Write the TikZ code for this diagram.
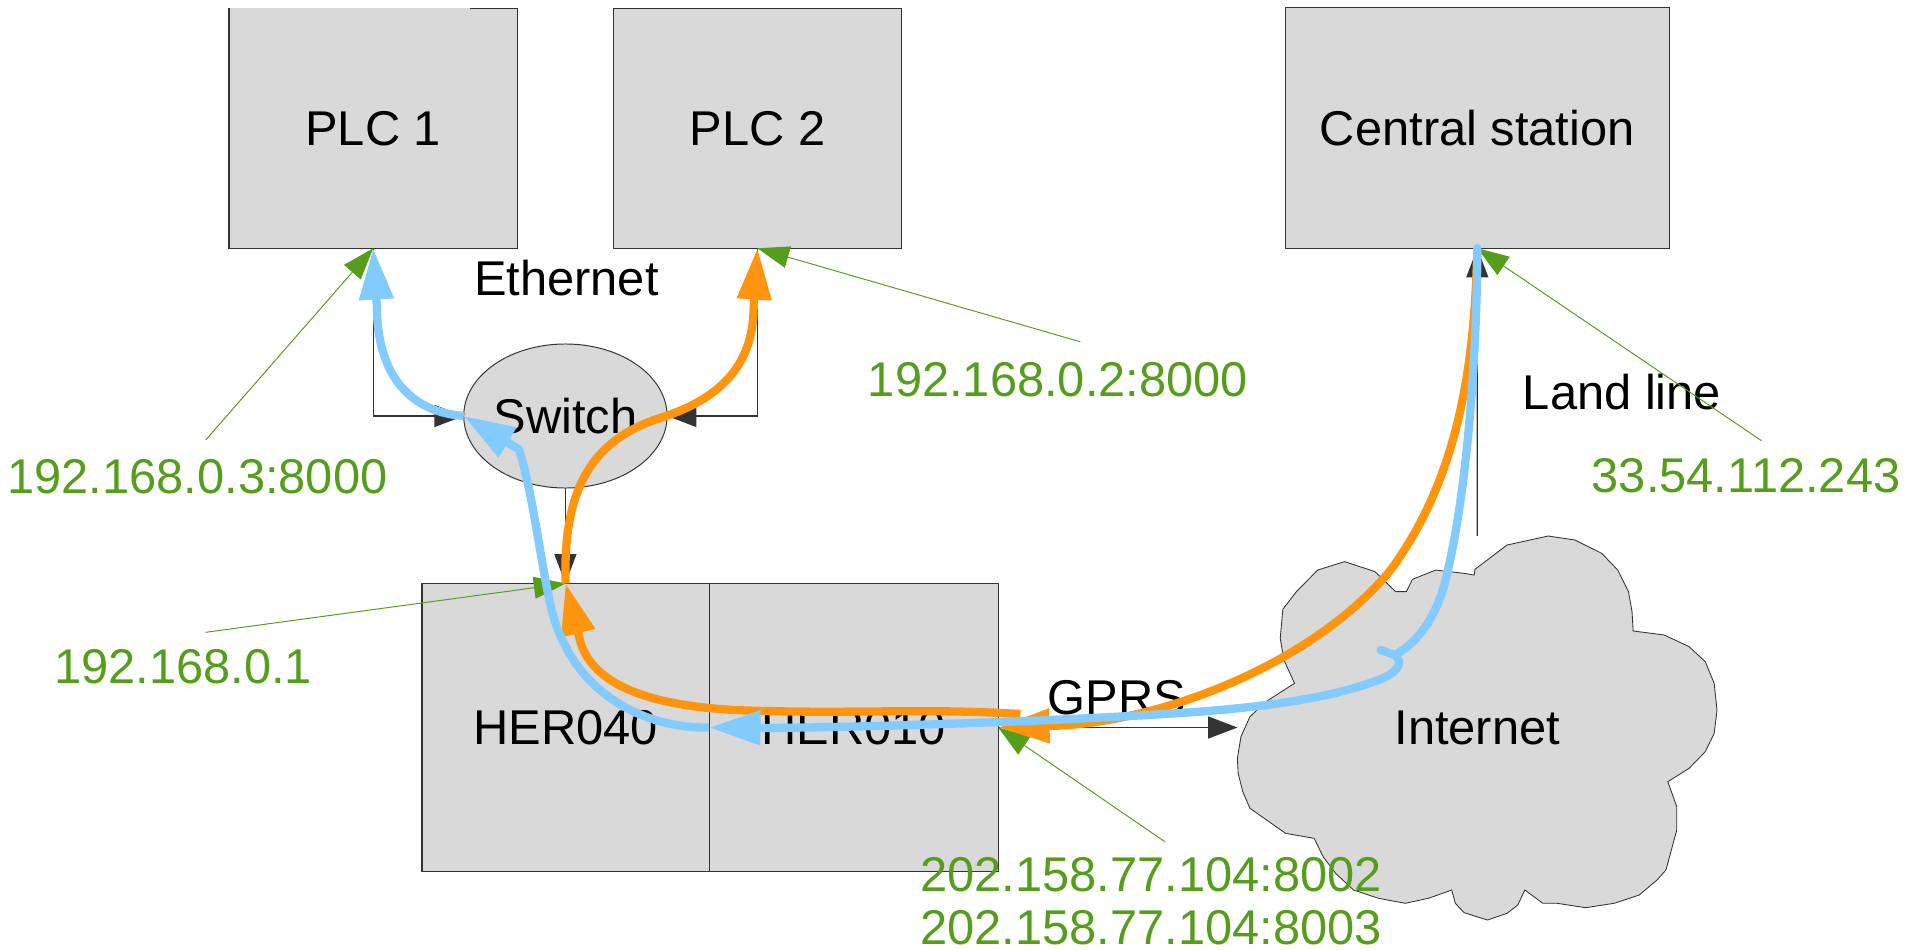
\documentclass[tikz,border=0pt]{standalone}
\usepackage{fontspec}
\setmainfont{Liberation Sans}
\usetikzlibrary{arrows.meta,shapes.geometric,calc}
\definecolor{boxgray}{HTML}{D9D9D9}
\definecolor{edgegray}{HTML}{333333}
\definecolor{flowblue}{HTML}{83CAFF}
\definecolor{floworange}{HTML}{FF950E}
\definecolor{callgreen}{HTML}{579D1C}
\tikzset{
  bigtext/.style={font=\fontsize{40}{48}\selectfont},
  boxnode/.style={rectangle, fill=boxgray, draw=edgegray, line width=1pt, inner sep=0pt, outer sep=0pt, bigtext},
  plainlbl/.style={inner sep=0pt, outer sep=0pt, bigtext, text=black},
  greenlbl/.style={inner sep=0pt, outer sep=0pt, bigtext, text=callgreen},
  conn/.style={edgegray, line width=1.1pt, -{Triangle[length=24pt,width=18pt]}},
  callout/.style={callgreen, line width=0.8pt, -{Triangle[length=26pt,width=18pt]}},
  flow/.style={line width=6.8pt, line join=round, -{Triangle[length=42pt,width=27pt]}},
  bluef/.style={flow, flowblue},
  orangef/.style={flow, floworange},
}
\begin{document}
\begin{tikzpicture}[x=1pt,y=-1pt]
\useasboundingbox (0,0) rectangle (1568,778);
% boxes
\node[boxnode, draw=none, minimum width=236.3pt, minimum height=196.6pt] (plc1) at (305.75,105.1) {PLC 1};
\draw[edgegray, line width=1pt] ($(plc1.north west)+(197.4,0)$) -- (plc1.north east) -- (plc1.south east) -- (plc1.south west) -- (plc1.north west);
\node[boxnode, minimum width=236pt, minimum height=196.6pt] (plc2) at (620.5,105.1) {PLC 2};
\node[boxnode, minimum width=314.5pt, minimum height=196.9pt] (cs) at (1210.25,104.85) {Central station};
\node[ellipse, fill=boxgray, draw=edgegray, line width=0.8pt, minimum width=157.6pt, minimum height=118pt, inner sep=0pt, outer sep=0pt, bigtext] (sw) at (463.2,340.8) {Switch};
\node[boxnode, minimum width=235.3pt, minimum height=236pt] (her040) at (463.35,596) {HER040};
\node[boxnode, minimum width=236.8pt, minimum height=236pt] (her010) at (699.4,596) {HER010};
% cloud
\filldraw[fill=boxgray, draw=edgegray, line width=0.7pt]
 (1013.7,621.2) -- (1016.6,603.5) -- (1024.0,587.1) -- (1037.1,574.8) -- (1060.5,559.8)
 -- (1051.8,540.7) -- (1048.8,522.9) -- (1050.9,499.2) -- (1062.0,484.7) -- (1079.5,467.0)
 -- (1101.5,460.1) -- (1126.4,468.3) -- (1143.3,484.7) -- (1152.1,484.7) -- (1157.1,474.6)
 -- (1176.1,467.0) -- (1199.5,469.7) -- (1207.7,471.1) -- (1208.3,466.4) -- (1234.6,446.5)
 -- (1268.3,439.1) -- (1290.2,442.4) -- (1312.1,453.3) -- (1325.3,467.0) -- (1334.1,484.7)
 -- (1337.0,501.1) -- (1337.9,516.9) -- (1363.3,520.2) -- (1383.8,529.8) -- (1397.0,542.1)
 -- (1404.3,559.8) -- (1406.6,581.7) -- (1404.3,600.8) -- (1397.0,615.8) -- (1383.8,629.4)
 -- (1366.3,640.4) -- (1373.6,660.8) -- (1373.6,680.0) -- (1364.8,712.7) -- (1357.5,720.9)
 -- (1342.9,733.2) -- (1322.4,740.0) -- (1299.0,743.6) -- (1275.6,740.0) -- (1263.9,740.0)
 -- (1249.2,729.1) -- (1243.4,741.4) -- (1234.6,748.2) -- (1218.5,753.7) -- (1199.5,747.7)
 -- (1192.2,740.0) -- (1189.3,729.1) -- (1170.2,735.9) -- (1151.2,740.0) -- (1129.3,735.9)
 -- (1108.8,729.1) -- (1094.2,715.5) -- (1083.9,701.8) -- (1076.6,686.8) -- (1053.2,682.7)
 -- (1024.0,662.2) -- (1018.1,648.6) -- (1014.3,633.5) -- cycle;
\node[plainlbl, minimum width=392.9pt, minimum height=314.7pt] (cloud) at (1210.2,596.4) {Internet};
% plain labels
\node[plainlbl, anchor=base] (eth) at (464,241.7) {Ethernet};
\node[plainlbl, anchor=base] (land) at (1328.8,335.3) {Land line};
\node[plainlbl, anchor=base] (gprs) at (914.8,585.7) {GPRS};
% green labels
\node[greenlbl, anchor=base west] (ip1) at (6,404) {192.168.0.3:8000};
\node[greenlbl, anchor=base west] (ip2) at (711,325) {192.168.0.2:8000};
\node[greenlbl, anchor=base west] (ip3) at (44.3,560.3) {192.168.0.1};
\node[greenlbl, anchor=base west] (ip4) at (1304,403.6) {33.54.112.243};
\node[greenlbl, anchor=base west] (ip5) at (754,730.3) {202.158.77.104:8002};
\node[greenlbl, anchor=base west] (ip6) at (754,773.6) {202.158.77.104:8003};
% black connectors
\draw[conn] (plc1.south) |- (sw.west);
\draw[conn] (plc2.south) |- (sw.east);
\draw[conn] (sw.south) -- (sw.south |- her040.north);
\draw[conn] (her010.east) -- (her010.east -| cloud.west);
\draw[conn] (cloud.north) -- (cs.south);
% green callouts
\coordinate (g1) at (168.5,360.5);
\coordinate (g2) at (885,280);
\coordinate (g3) at (168.5,518);
\coordinate (g4) at (1443,361);
\coordinate (g5) at (954.2,689.5);
\draw[callout] (g1) -- (plc1.south);
\draw[callout] (g2) -- (plc2.south);
\draw[callout] (g3) -- (her040.north);
\draw[callout] (g4) -- (cs.south);
\draw[callout] (g5) -- (her010.east);
% orange flow
\draw[orangef] (cs.south) .. controls (1208,300) and (1195,390) .. (1140,466)
  .. controls (1080,540) and (960,590) .. (866,594.5) -- (her010.east);
\draw[orangef] (836,585) .. controls (760,580) and (700,585) .. (610,582)
  .. controls (530,579) and (486,560) .. (475.7,526.5) -- (her040.north);
\draw[orangef] (her040.north) .. controls (461,400) and (485,360) .. (542,342)
  .. controls (595,325) and (617,295) .. (617.4,252) -- (plc2.south);
% blue flow
\draw[bluef, line cap=round] (cs.south) .. controls (1210,300) and (1200,420) .. (1182,483.3)
  .. controls (1172,515) and (1155,530) .. (1142.5,536.6) -- (1131,532.5) -- (1142.5,536.6)
  .. controls (1150,542) and (1146,551) .. (1129.3,557)
  .. controls (1100,568) and (1060,577) .. (983,583)
  .. controls (900,589) and (750,595) .. (631,596.4) -- (her010.west);
\draw[bluef] (her010.west) .. controls (530,597) and (470,570) .. (452,500)
  .. controls (444,468) and (436,400) .. (425,368) -- (sw.west);
\draw[bluef] (sw.west) .. controls (330,337) and (309,300) .. (308.8,252) -- (plc1.south);
\end{tikzpicture}
\end{document}
